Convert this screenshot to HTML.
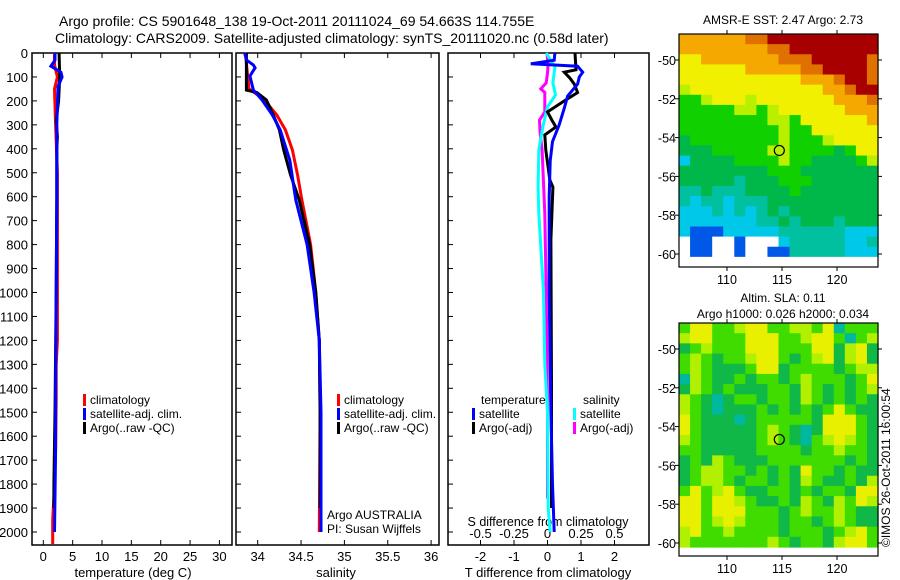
<!DOCTYPE html>
<html><head><meta charset="utf-8"><style>
html,body{margin:0;padding:0;background:#fff;}
svg{display:block;font-family:"Liberation Sans",Arial,sans-serif;}
text{fill:#000;}
</style></head><body>
<svg id="chart" width="900" height="580" viewBox="0 0 900 580">
<text x="59" y="26" font-size="14">Argo profile: CS 5901648_138 19-Oct-2011 20111024_69 54.663S 114.755E</text>
<text x="55" y="43" font-size="14">Climatology: CARS2009. Satellite-adjusted climatology: synTS_20111020.nc (0.58d later)</text>
<g id="g1"></g>
<g id="g2"></g>
<g id="g3"></g>
<g id="m1"></g>
<g id="m2"></g>
<text x="783" y="24" font-size="12" text-anchor="middle">AMSR-E SST: 2.47 Argo: 2.73</text>
<text x="783" y="302" font-size="12" text-anchor="middle">Altim. SLA: 0.11</text>
<text x="783" y="318" font-size="12" text-anchor="middle">Argo h1000: 0.026 h2000: 0.034</text>
<text transform="translate(890,547) rotate(-90)" font-size="12">©IMOS 26-Oct-2011 16:00:54</text>
</svg>
<script>
// ---------- data ----------
const depthTicks=[0,100,200,300,400,500,600,700,800,900,1000,1100,1200,1300,1400,1500,1600,1700,1800,1900,2000];
const tempTicks=[0,5,10,15,20,25,30];
const salTicks=[34,34.5,35,35.5,36];
const salTickLabels=["34","34.5","35","35.5","36"];
const tdTicks=[-2,-1,0,1,2];
const sdTicks=[-0.5,-0.25,0,0.25,0.5];
const sdTickLabels=["-0.5","-0.25","0","0.25","0.5"];
const tClimDepth=[0,50,100,150,300,500,1200,1300,1450,1650,1850,1950,2050];
const tClimVal=[1.9,1.9,2.4,1.9,2.1,2.4,2.4,2.2,2.2,2.1,1.8,1.6,1.6];
const tSatDepth=[0,30,55,80,100,140,300,600,1000,1400,1650,1850,2000];
const tSatVal=[2.0,2.0,1.3,3.0,3.2,2.5,2.3,2.3,2.2,2.1,2.1,2.0,1.9];
const tArgoDepth=[0,100,200,280,350,400,600,1000,1500,1800,1900];
const tArgoVal=[2.7,2.8,2.6,2.2,2.4,2.3,2.3,2.2,2.0,1.8,1.8];
const sClimDepth=[0,10,150,175,215,259,321,405,510,614,800,1000,1200,1500,2000];
const sClimVal=[33.85,33.86,33.9,34.0,34.12,34.22,34.32,34.4,34.46,34.51,34.61,34.67,34.71,34.72,34.71];
const sSatDepth=[0,29,50,62,96,155,196,259,321,447,614,800,1000,1200,1500,2000];
const sSatVal=[33.85,33.87,33.95,33.97,33.91,33.95,34.05,34.17,34.26,34.37,34.44,34.57,34.65,34.71,34.73,34.73];
const sArgoDepth=[0,155,165,196,259,321,405,510,614,800,1000,1200,1500,1900];
const sArgoVal=[33.87,33.87,33.99,34.1,34.18,34.25,34.3,34.38,34.48,34.6,34.67,34.71,34.72,34.72];
const dtSatDepth=[0,30,45,55,80,100,130,180,230,300,370,450,600,1000,1500,1800,2000];
const dtSatVal=[0.22,0.2,-0.5,0.9,1.05,0.95,0.9,0.6,0.5,0.35,0.15,0.08,0.05,0.05,0.1,0.15,0.2];
const dtArgoDepth=[0,70,80,105,130,165,196,246,280,309,342,405,530,560,780,1400,1900];
const dtArgoVal=[0.82,0.85,0.5,0.67,0.8,0.9,0.55,0,0.13,0.25,-0.08,-0.05,0.07,0.16,0.1,0.12,0.12];
const dsSatDepth=[0,58,125,175,225,309,405,560,668,1000,1300,1500,1900,2000];
const dsSatVal=[-0.01,0.055,0.04,0.06,0,-0.035,-0.065,-0.07,-0.065,-0.03,-0.02,0,0.005,0.02];
const dsArgoDepth=[0,50,84,125,150,165,246,280,334,405,668,1000,1500,1860];
const dsArgoVal=[-0.004,0.004,0,-0.01,-0.05,-0.02,-0.02,-0.06,-0.055,-0.04,-0.02,-0.01,0,0];
const latTicks=[-50,-52,-54,-56,-58,-60];
const lonTicks=[110,115,120];
const argoLon=114.755, argoLat=-54.663;
const sstGrid=[
"ooooooOORRRRRRRRRR","ooooooooOORRRRRRRR","YYoooooooOOORRRRRO","YYYYYYoooooOORRRRO",
"YYYYYYYYYYYoooORRO","yYYYYYYYYYYYYooORR","GGyYYYyYYYYYYYoooO","GGGGGyyGyYYYYYYooo",
"GGGGGGGGyyGYYYYYYo","GGGGGGGGGyGGYYYYYY","gGGGGGGGGyGGGyYYYY","gggGGGGGyyGGGGgGYY",
"CggggGGGGyGGggggGy","ggggggggGGGggggggg","gggggTgggGGGgggggg","TTgTTTggggGggggggg",
"TCTTCTTTgggggggggg","CCCTCTCTgTgggggggg","CCCCCCCTTgTgggTggg","CBBBCCCCCTTTTTTCCC",
"WBBWWBWWWCTTTTTCCT","WBBWWBWWBBTTTTTCCC","WWWWWWWWWWWWWWWWWW"];
const slaGrid=[
"GYYGGyYYGGyyGYTGGG","yYYGGGYYYGGyYYGTGy","gGyGGGYYYGGGYYgyYg","GyGgGGyYYGgGyYgyYg",
"GyGgggGYYgGGGGgGyy","TyGggGgGGgGyGGGgGY","gyGgGgggGGgyGgGgGy","yGgTgGGgGGgyGgGgGg",
"yGgTgggGgGgGgGYGgg","YGgggTgGGGGGgYYYGg","YGgggggGyGgTgYYYGg","yGgggggGyGgTGyYyGg",
"GGgggggGGGGgGGyGGg","gGgyGgggGGGGGGGgGg","gGyyGGgGgGgYGGgGgg","gGyyGgGGgGgyGggGgy",
"GYGyYGggGGgGgGGgYY","YYGYYyGggGgyGgyGYy","YYGYYYGGGgGyGGyGgg","YYGyYyGGGgGGgGyGgg",
"yYGGyGGGGgGGGgGyYG","yGGGGGGGyGgGGgyYYG"];
// ---------- helpers ----------
const NS="http://www.w3.org/2000/svg";
function mk(parent,tag,attrs){const e=document.createElementNS(NS,tag);for(const k in attrs)e.setAttribute(k,attrs[k]);parent.appendChild(e);return e;}
const Y0=53, DS=0.2395;
function yD(d){return Y0+d*DS;}
const BOT=545;
function frame(g,x0,x1,name){const r=mk(g,'rect',{x:x0,y:Y0,width:x1-x0,height:BOT-Y0,fill:'none',stroke:'#000','stroke-width':1.5});

}
function line(g,xs,ds,fx,color,name){let p='';for(let i=0;i<xs.length;i++){p+=(i?'L':'M')+fx(xs[i]).toFixed(1)+','+yD(ds[i]).toFixed(1);}
const e=mk(g,'path',{d:p,fill:'none',stroke:color,'stroke-width':3,'stroke-linejoin':'miter'});

}
function txt(g,x,y,s,size,anchor,name){const t=mk(g,'text',{x:x,y:y,'font-size':size,'text-anchor':anchor||'start'});t.textContent=s;

return t;}
function legend(g,x,y,color,label,name){const r=mk(g,'rect',{x:x,y:y-10,width:3,height:12,fill:color});


txt(g,x+7,y,label,12,'start',name);}
function depthTicksOn(g,x0,x1){depthTicks.forEach(d=>{mk(g,'line',{x1:x0,x2:x0+5,y1:yD(d),y2:yD(d),stroke:'#000'});});}
// ---------- panel 1 ----------
const g1=document.getElementById('g1');
const fT=t=>43.3+5.87*t;
frame(g1,32,232,'temperature-axes');
depthTicksOn(g1,32,232);
depthTicks.forEach(d=>txt(g1,28,yD(d)+5,String(d),13,'end','depth-tick-label'));
tempTicks.forEach(t=>{mk(g1,'line',{x1:fT(t),x2:fT(t),y1:BOT,y2:BOT-5,stroke:'#000'});mk(g1,'line',{x1:fT(t),x2:fT(t),y1:Y0,y2:Y0+5,stroke:'#000'});
txt(g1,fT(t),561,String(t),13,'middle','temperature-tick-label');});
txt(g1,133,577,'temperature (deg C)',13,'middle','temperature-axis-title');
line(g1,tClimVal,tClimDepth,fT,'#f00','temperature-climatology-line');
line(g1,tArgoVal,tArgoDepth,fT,'#000','temperature-argo-line');
line(g1,tSatVal,tSatDepth,fT,'#00f','temperature-satellite-line');
legend(g1,83,404,'#f00','climatology','legend-climatology');
legend(g1,83,418,'#00f','satellite-adj. clim.','legend-satellite');
legend(g1,83,432,'#000','Argo(..raw -QC)','legend-argo');
// ---------- panel 2 ----------
const g2=document.getElementById('g2');
const fS=s=>257.7+86.7*(s-34);
frame(g2,236,439,'salinity-axes');
depthTicksOn(g2,236,439);
salTicks.forEach((s,i)=>{mk(g2,'line',{x1:fS(s),x2:fS(s),y1:BOT,y2:BOT-5,stroke:'#000'});mk(g2,'line',{x1:fS(s),x2:fS(s),y1:Y0,y2:Y0+5,stroke:'#000'});
txt(g2,fS(s),561,salTickLabels[i],13,'middle','salinity-tick-label');});
txt(g2,336,577,'salinity',13,'middle','salinity-axis-title');
line(g2,sClimVal,sClimDepth,fS,'#f00','salinity-climatology-line');
line(g2,sArgoVal,sArgoDepth,fS,'#000','salinity-argo-line');
line(g2,sSatVal,sSatDepth,fS,'#00f','salinity-satellite-line');
legend(g2,337,404,'#f00','climatology','legend-climatology-2');
legend(g2,337,418,'#00f','satellite-adj. clim.','legend-satellite-2');
legend(g2,337,432,'#000','Argo(..raw -QC)','legend-argo-2');
txt(g2,327,519,'Argo AUSTRALIA',12,'start','argo-australia-label');
txt(g2,327,533,'PI: Susan Wijffels',12,'start','pi-label');
// ---------- panel 3 ----------
const g3=document.getElementById('g3');
const fDT=t=>547.5+33.5*t, fDS=s=>547.5+134*s;
frame(g3,448,649,'difference-axes');
depthTicksOn(g3,448,649);
tdTicks.forEach(t=>{mk(g3,'line',{x1:fDT(t),x2:fDT(t),y1:BOT,y2:BOT-5,stroke:'#000'});mk(g3,'line',{x1:fDT(t),x2:fDT(t),y1:Y0,y2:Y0+5,stroke:'#000'});
txt(g3,fDT(t),561,String(t),13,'middle','t-diff-tick-label');});
sdTicks.forEach((s,i)=>{mk(g3,'line',{x1:fDS(s),x2:fDS(s),y1:BOT,y2:BOT-5,stroke:'#000'});
txt(g3,fDS(s),538,sdTickLabels[i],13,'middle','s-diff-tick-label');});
txt(g3,548,526,'S difference from climatology',12.5,'middle','s-diff-axis-title');
txt(g3,548,577,'T difference from climatology',13,'middle','t-diff-axis-title');
line(g3,dsArgoVal,dsArgoDepth,fDS,'#f0f','s-diff-argo-line');
line(g3,dsSatVal,dsSatDepth,fDS,'#0ff','s-diff-satellite-line');
line(g3,dtArgoVal,dtArgoDepth,fDT,'#000','t-diff-argo-line');
line(g3,dtSatVal,dtSatDepth,fDT,'#00f','t-diff-satellite-line');
txt(g3,481,404,'temperature',12,'start','legend-temperature-heading');
txt(g3,583,404,'salinity',12,'start','legend-salinity-heading');
legend(g3,472,418,'#00f','satellite','legend-t-satellite');
legend(g3,472,432,'#000','Argo(-adj)','legend-t-argo');
legend(g3,573,418,'#0ff','satellite','legend-s-satellite');
legend(g3,573,432,'#f0f','Argo(-adj)','legend-s-argo');
// ---------- maps ----------
const colors={R:'#a80000',O:'#e07000',o:'#f4a800',Y:'#f0f000',y:'#b8f000',G:'#10d000',g:'#00b84a',T:'#00c0a0',C:'#00c8e8',B:'#0058e8',W:'#ffffff'};
const colors2={G:'#40dc00',g:'#10b848',y:'#b0f000',Y:'#e8f000',T:'#00b8a0',W:'#ffffff'};
function map(g,grid,pal,top,cellsBottom,name){
 const L=679,R=878,B=top+233;
 const fx=lon=>727+(lon-110)*11, fy=lat=>top+(-48.66-lat)*19.4;
 const cw=(R-L)/grid[0].length, ch=(cellsBottom-top)/grid.length;
 grid.forEach((row,i)=>{for(let j=0;j<row.length;j++){const c=mk(g,'rect',{x:(L+j*cw).toFixed(2),y:(top+i*ch).toFixed(2),width:(cw+0.6).toFixed(2),height:(ch+0.6).toFixed(2),fill:pal[row[j]]});
 
 }});
 const f=mk(g,'rect',{x:L,y:top,width:R-L,height:B-top,fill:'none',stroke:'#000','stroke-width':1.2});
 
 
 latTicks.forEach(l=>{mk(g,'line',{x1:L-4,x2:L,y1:fy(l),y2:fy(l),stroke:'#000'});mk(g,'line',{x1:R,x2:R+4,y1:fy(l),y2:fy(l),stroke:'#000'});
 txt(g,L-3,fy(l)+5,String(l),12.5,'end',name+'-lat-label');});
 lonTicks.forEach(l=>{mk(g,'line',{x1:fx(l),x2:fx(l),y1:B,y2:B+4,stroke:'#000'});mk(g,'line',{x1:fx(l),x2:fx(l),y1:top-4,y2:top,stroke:'#000'});
 txt(g,fx(l),B+17,String(l),12.5,'middle',name+'-lon-label');});
 const c=mk(g,'circle',{cx:fx(argoLon),cy:fy(argoLat),r:5,fill:'none',stroke:'#000','stroke-width':1.2});
 
 
}
map(document.getElementById('m1'),sstGrid,colors,34,267,'sst-map');
const m2=document.getElementById('m2');
map(m2,slaGrid,colors2,323,547,'sla-map');
</script>
</body></html>
